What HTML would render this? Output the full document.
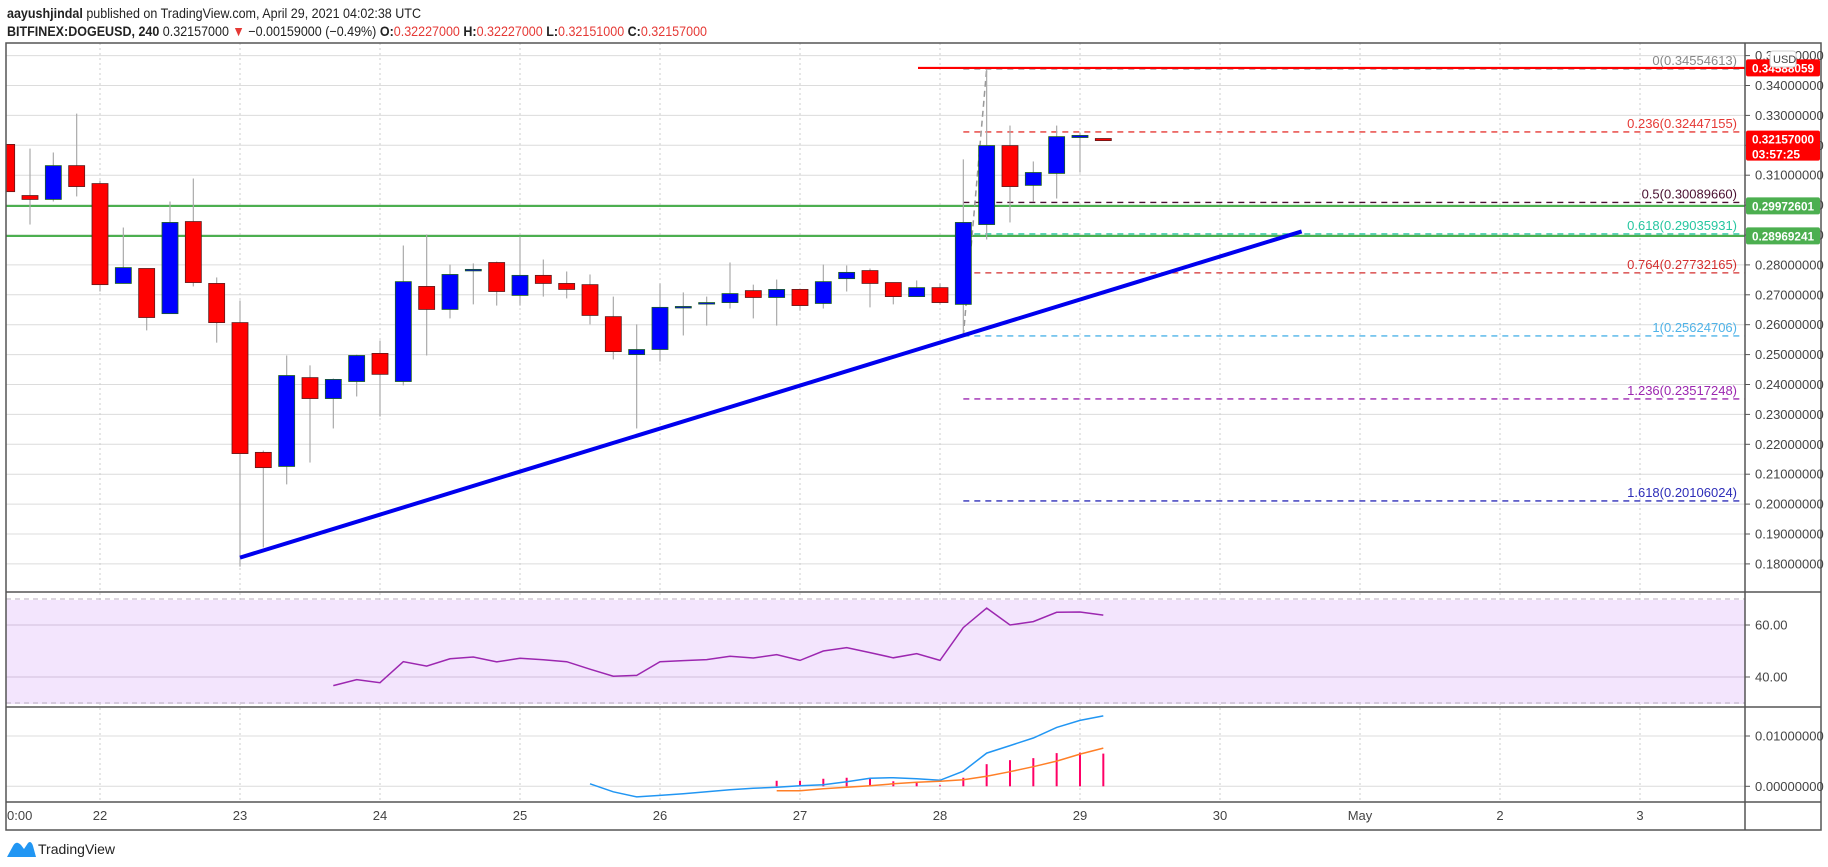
<!DOCTYPE html>
<html><head><meta charset="utf-8"><style>
html,body{margin:0;padding:0;background:#fff;}
svg{display:block;font-family:"Liberation Sans",sans-serif;}
</style></head><body>
<svg id="c" width="1828" height="867" viewBox="0 0 1828 867" xmlns="http://www.w3.org/2000/svg">
<text x="7" y="18" font-size="14" fill="#222" textLength="414" lengthAdjust="spacingAndGlyphs"><tspan font-weight="bold">aayushjindal</tspan> published on TradingView.com, April 29, 2021 04:02:38 UTC</text>
<text x="7" y="36" font-size="14" fill="#222" textLength="700" lengthAdjust="spacingAndGlyphs"><tspan font-weight="bold">BITFINEX:DOGEUSD, 240</tspan> 0.32157000 <tspan fill="#e53935">▼</tspan> −0.00159000 (−0.49%) <tspan font-weight="bold">O:</tspan><tspan fill="#e53935">0.32227000</tspan> <tspan font-weight="bold">H:</tspan><tspan fill="#e53935">0.32227000</tspan> <tspan font-weight="bold">L:</tspan><tspan fill="#e53935">0.32151000</tspan> <tspan font-weight="bold">C:</tspan><tspan fill="#e53935">0.32157000</tspan></text>
<g id="grid"></g>
<rect x="6" y="600" width="1739" height="104" fill="#f3e5fd"/>
<g id="marks"></g>
<g id="frame" fill="none" stroke="#555" stroke-width="1.5">
<rect x="6" y="43" width="1815" height="787"/>
<line x1="6" y1="592" x2="1821" y2="592"/>
<line x1="6" y1="707" x2="1821" y2="707"/>
<line x1="6" y1="802" x2="1821" y2="802"/>
<line x1="1745" y1="43" x2="1745" y2="830"/>
</g>
<g id="labels"></g>
<g>
<path d="M7 857 L13 846 Q16 840 21 845 L24 849 L28 843 Q31 840 33 846 L36 857 Z" fill="#2196f3"/>
<text x="38" y="854" font-size="14" fill="#222">TradingView</text>
</g>
</svg>
<script>
const opens=[.3203,.3032,.3019,.3132,.3072,.2738,.2788,.2637,.2945,.2738,.2607,.2173,.2126,.2423,.2353,.2410,.2504,.2410,.2728,.2651,.2785,.2808,.2698,.2765,.2738,.2734,.2627,.2500,.2517,.2661,.2674,.2674,.2714,.2691,.2718,.2671,.2754,.2781,.2741,.2694,.2724,.2668,.2935,.3199,.3066,.3106,.3226,.32227];
const highs=[.3203,.3189,.3176,.3306,.3082,.2925,.2788,.3012,.3089,.2758,.2681,.2179,.2497,.2464,.2420,.2500,.2547,.2865,.2902,.2801,.2805,.2811,.2895,.2818,.2778,.2768,.2694,.2601,.2738,.2708,.2694,.2808,.2734,.2751,.2718,.2801,.2798,.2788,.2741,.2748,.2738,.3153,.3455,.3266,.3146,.3266,.3243,.32227];
const lows=[.3045,.2935,.3012,.3029,.2711,.2738,.2581,.2637,.2728,.2540,.1791,.1855,.2066,.2139,.2253,.2360,.2293,.2397,.2497,.2621,.2668,.2664,.2664,.2694,.2688,.2601,.2484,.2253,.2477,.2564,.2597,.2654,.2621,.2597,.2647,.2654,.2711,.2658,.2668,.2694,.2668,.2562,.2885,.2942,.3012,.3022,.3109,.32151];
const closes=[.3045,.3019,.3132,.3062,.2734,.2791,.2624,.2942,.2741,.2607,.2169,.2122,.2430,.2353,.2417,.2497,.2434,.2744,.2651,.2768,.2785,.2711,.2765,.2738,.2718,.2631,.2510,.2517,.2658,.2661,.2674,.2704,.2691,.2718,.2664,.2744,.2775,.2738,.2694,.2724,.2674,.2942,.3199,.3062,.3109,.3229,.3233,.32157];
const firstIndex=-10;
const rsiStart=4;
const rsiValues=[36.7,39.0,37.8,45.9,44.2,47.0,47.7,45.8,47.2,46.6,45.9,43.0,40.3,40.6,45.9,46.3,46.7,48.0,47.3,48.6,46.4,50.0,51.3,49.4,47.4,49.0,46.4,59.0,66.5,60.0,61.3,64.9,65.0,63.8];
const macdStart=15;
const macdValues=[0.0005,-0.0011,-0.0021,-0.0018,-0.0015,-0.0011,-0.0007,-0.0004,-0.0002,0.0001,0.0003,0.0009,0.0016,0.0017,0.0015,0.0012,0.0030,0.0066,0.0081,0.0096,0.0117,0.0131,0.0140];
const signalStart=23;
const signalValues=[-0.0009,-0.0009,-0.0005,-0.0002,0.0001,0.0005,0.0008,0.0010,0.0013,0.0020,0.0029,0.0039,0.0050,0.0064,0.0076];
const histValues=[0.0011,0.0011,0.0015,0.0017,0.0016,0.0010,0.0009,0.0002,0.0017,0.0044,0.0052,0.0056,0.0066,0.0067,0.0065];
const priceTicks=[0.35,0.34,0.33,0.32,0.31,0.30,0.29,0.28,0.27,0.26,0.25,0.24,0.23,0.22,0.21,0.20,0.19,0.18];
const dayLabels=["22","23","24","25","26","27","28","29","30","May","2","3"];
const fibRatios=["0","0.236","0.5","0.618","0.764","1","1.236","1.618"];
const fibPrices=[0.34554613,0.32447155,0.30089660,0.29035931,0.27732165,0.25624706,0.23517248,0.20106024];
const fibColors=["#888888","#e53935","#4a1030","#26c6a0","#d32f2f","#4fb3e8","#9c27b0","#2d2db8"];
const supportLevels=[0.29972601,0.28969241];
const resistanceLevel=0.34588059;
const trendStart=[0,0.1821];
const trendEnd=[45.5,0.2912];
const rsiTicks=[60,40];
const macdTicks=[0.01,0];

const NS="http://www.w3.org/2000/svg";
const X=k=>240+k*23.333;
const Y=p=>85.5+(0.34-p)*2990;
const RY=v=>677-(v-40)*2.6;
const MY=v=>786.3-v*5030;
function mk(parent,tag,attrs){const e=document.createElementNS(NS,tag);for(const a in attrs)e.setAttribute(a,attrs[a]);document.getElementById(parent).appendChild(e);return e;}

priceTicks.forEach(t=>{const l=mk('grid','line',{x1:6,x2:1745,y1:Y(t),y2:Y(t),stroke:'#dcdcdc','stroke-width':1});

});
dayLabels.forEach((d,i)=>{const x=100+i*140;const l=mk('grid','line',{x1:x,x2:x,y1:43,y2:802,stroke:'#ccc','stroke-dasharray':'2 3'});


const t=mk('labels','text',{x:x,y:820,'font-size':13,fill:'#444','text-anchor':'middle'});t.textContent=d;

});
{const t=mk('labels','text',{x:7,y:820,'font-size':13,fill:'#444'});t.textContent='0:00';

}
macdTicks.forEach(v=>{const l=mk('grid','line',{x1:6,x2:1745,y1:MY(v),y2:MY(v),stroke:'#dcdcdc'});

});

rsiTicks.forEach(v=>{const l=mk('marks','line',{x1:6,x2:1745,y1:RY(v),y2:RY(v),stroke:'#d2bfdc'});

});
[70,30].forEach(v=>{const l=mk('marks','line',{x1:6,x2:1745,y1:RY(v),y2:RY(v),stroke:'#b9aebf','stroke-dasharray':'5 4'});

});

supportLevels.forEach(p=>{const l=mk('marks','line',{x1:6,x2:1745,y1:Y(p),y2:Y(p),stroke:'#4caf50','stroke-width':2.2});

});
const fx=X(31);
fibPrices.forEach((p,i)=>{const l=mk('marks','line',{x1:fx,x2:1745,y1:Y(p),y2:Y(p),stroke:fibColors[i],'stroke-width':1.3,'stroke-dasharray':'6 5'});


const t=mk('labels','text',{x:1737,y:Y(p)-4,'font-size':13,fill:fibColors[i],'text-anchor':'end'});t.textContent=fibRatios[i]+'('+p.toFixed(8)+')';

});
{const l=mk('marks','line',{x1:X(31),y1:Y(fibPrices[5]),x2:X(32),y2:Y(fibPrices[0]),stroke:'#999','stroke-width':1.5,'stroke-dasharray':'6 4'});

}
{const l=mk('marks','line',{x1:918,x2:1745,y1:Y(resistanceLevel),y2:Y(resistanceLevel),stroke:'#ff0000','stroke-width':2.2});

}

closes.forEach((c,i)=>{const k=i+firstIndex;const x=X(k);const o=opens[i];const up=c>=o;
const w=mk('marks','line',{x1:x,x2:x,y1:Y(highs[i]),y2:Y(lows[i]),stroke:'#aaa','stroke-width':1.2});


const top=Y(Math.max(o,c)),bot=Y(Math.min(o,c));const bx=Math.max(x-8,6);
const b=mk('marks','rect',{x:bx,y:top,width:x+8-bx,height:Math.max(bot-top,1.5),fill:up?'#0000ff':'#ff0000',stroke:up?'#1b5e20':'#5d1a1a','stroke-width':0.8});

});

{const l=mk('marks','line',{x1:X(trendStart[0]),y1:Y(trendStart[1]),x2:X(trendEnd[0]),y2:Y(trendEnd[1]),stroke:'#0000ee','stroke-width':4});

}

{const pts=rsiValues.map((v,i)=>X(rsiStart+i).toFixed(1)+','+RY(v).toFixed(1)).join(' ');
const l=mk('marks','polyline',{points:pts,fill:'none',stroke:'#9c27b0','stroke-width':1.5});

}
histValues.forEach((v,i)=>{const x=X(signalStart+i);const r=mk('marks','line',{x1:x,x2:x,y1:MY(0),y2:MY(v),stroke:'#ff0066','stroke-width':2});

});
{const pts=macdValues.map((v,i)=>X(macdStart+i).toFixed(1)+','+MY(v).toFixed(1)).join(' ');
const l=mk('marks','polyline',{points:pts,fill:'none',stroke:'#2196f3','stroke-width':1.5});

}
{const pts=signalValues.map((v,i)=>X(signalStart+i).toFixed(1)+','+MY(v).toFixed(1)).join(' ');
const l=mk('marks','polyline',{points:pts,fill:'none',stroke:'#ff7f27','stroke-width':1.5});

}

function axisLabel(y,txt,name){mk('labels','line',{x1:1745,x2:1750,y1:y,y2:y,stroke:'#555'});
const t=mk('labels','text',{x:1755,y:y+4.5,'font-size':13,fill:'#444'});t.textContent=txt;

}
priceTicks.forEach(p=>axisLabel(Y(p),p.toFixed(8),'price-axis-label'));
rsiTicks.forEach(v=>axisLabel(RY(v),v.toFixed(2),'rsi-axis-label'));
macdTicks.forEach(v=>axisLabel(MY(v),v.toFixed(8),'macd-axis-label'));

function box(y,h,color,lines,name){const r=mk('labels','rect',{x:1746,y:y,width:74,height:h,fill:color,rx:2});


lines.forEach((s,i)=>{const t=mk('labels','text',{x:1752,y:y+13+i*15,'font-size':12,'font-weight':'bold',fill:'#fff',textLength:s.length>8?62:48,lengthAdjust:'spacingAndGlyphs'});t.textContent=s;});}
box(Y(resistanceLevel)-8.5,17,'#ff0000',[resistanceLevel.toFixed(8)],'resistance-price-tag');
box(Y(closes[closes.length-1])-10,30,'#ff0000',[closes[closes.length-1].toFixed(8),'03:57:25'],'last-price-tag');
supportLevels.forEach(p=>box(Y(p)-8.5,17,'#4caf50',[p.toFixed(8)],'support-price-tag'));
{const r=mk('labels','rect',{x:1770,y:51,width:26,height:16,fill:'#fff',stroke:'#ccc',rx:3});


const t=mk('labels','text',{x:1773,y:63,'font-size':11,fill:'#444'});t.textContent='USD';}
</script>
</body></html>
